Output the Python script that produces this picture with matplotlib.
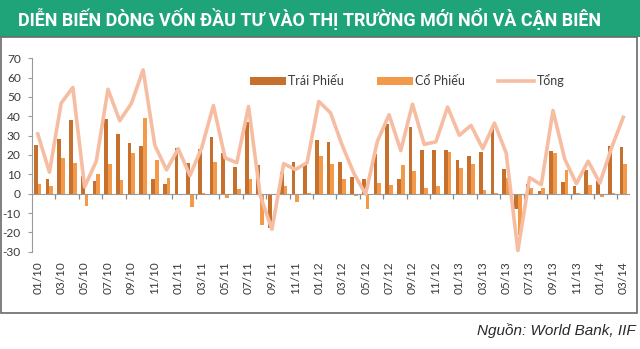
import matplotlib
matplotlib.use("Agg")
import matplotlib.pyplot as plt
import numpy as np
from matplotlib.patches import Rectangle

# dữ liệu (tỷ USD), 01/2010 - 03/2014
trai_phieu = [25.4, 7.4, 28.3, 38.1, 9, 6.5, 38.4, 30.9, 26.1, 24.5, 7.4, 4.8,
              23.7, 16.1, 23, 29.2, 21.1, 13.7, 37, 14.8, -18, 11.1, 16.5, 14.8,
              28, 26.8, 16.6, 8.7, 7.4, 20.6, 36.2, 7.7, 34.6, 22.5, 22.5, 22.8,
              17.2, 19.6, 21.6, 34, 12.7, -8.1, 4.8, 1.4, 22.3, 6.2, 3.9, 12.3,
              6.5, 24.5, 24]
co_phieu = [5.1, 3.9, 18.2, 16.1, -6.5, 10.1, 15.3, 6.9, 20.8, 39.3, 17.2, 7.9,
            -0.5, -6.9, 0.5, 16.5, -2.4, 2.2, 7.4, -16.1, -0.5, 3.9, -4.1, 0.5,
            19.4, 15.3, 7.4, -1, -8.1, 5.7, 4.3, 14.8, 11.7, 2.7, 3.9, 21.6,
            13.2, 15.6, 2.1, 0.3, 8.2, -21.5, 3.1, 2.7, 20.8, 12.3, 0.3, 4.3,
            -1.7, 0.2, 15.1]
tong = [30.9, 11.1, 46.8, 54.9, 3.5, 16.8, 54, 37.7, 46.7, 64, 25, 12.3,
        23.2, 9.4, 23.7, 45.6, 18.5, 16, 45.1, -1, -18.4, 15.5, 12.5, 16,
        47.7, 41.8, 25, 10.5, -0.3, 27, 40.8, 22.3, 46.3, 25.5, 26.8, 44.8,
        30.2, 35.3, 23.3, 36.5, 21.1, -29.5, 8.3, 4.6, 43, 17.9, 5.2, 16.8,
        5.5, 23.7, 39.5]
tick_labels = ["01/10", "03/10", "05/10", "07/10", "09/10", "11/10",
               "01/11", "03/11", "05/11", "07/11", "09/11", "11/11",
               "01/12", "03/12", "05/12", "07/12", "09/12", "11/12",
               "01/13", "03/13", "05/13", "07/13", "09/13", "11/13",
               "01/14", "03/14"]

C_TP = "#C6702E"
C_CP = "#F29A4A"
C_TONG = "#F7BDA2"
GRAY = "#9a9a9a"
TXT = "#3a3a3a"

plt.rcParams["font.family"] = ["Lato", "DejaVu Sans"]
plt.rcParams["axes.unicode_minus"] = False

fig = plt.figure(figsize=(6.4, 3.49), dpi=100)
ax = fig.add_axes([0.0498, 0.2788, 0.9332, 0.5542])

x = np.arange(len(trai_phieu))
w = 0.32
b1 = ax.bar(x - w / 2, trai_phieu, w, color=C_TP, label="Trái Phiếu", zorder=2)
b2 = ax.bar(x + w / 2, co_phieu, w, color=C_CP, label="Cổ Phiếu", zorder=2)
ln, = ax.plot(x, tong, color=C_TONG, lw=2.6, label="Tổng", zorder=3)

ax.set_xlim(-0.5, len(x) - 0.5)
ax.set_ylim(-30, 70)
ax.set_yticks(range(-30, 71, 10))
ax.tick_params(axis="y", colors=GRAY, length=3, width=0.8, pad=5,
               labelcolor=TXT, labelsize=8.6)

# trục hoành nằm tại 0, nhãn đẩy xuống dưới
ax.spines["bottom"].set_position(("data", 0))
ax.spines["bottom"].set_color(GRAY)
ax.spines["left"].set_color(GRAY)
ax.spines["top"].set_visible(False)
ax.spines["right"].set_visible(False)
ax.set_xticks(x[::2])
ax.set_xticklabels(tick_labels, rotation=90)
ax.set_xticks(x[2::2] - 0.5, minor=True)
ax.tick_params(axis="x", which="major", length=0, pad=49, labelsize=8.5,
               labelcolor=TXT)
ax.tick_params(axis="x", which="minor", length=3.5, width=0.9, colors="#8a8a8a")

ax.legend([b1, b2, ln], ["Trái Phiếu", "Cổ Phiếu", "Tổng"],
          loc="center", bbox_to_anchor=(0.628, 0.883), ncol=3, frameon=False,
          fontsize=9, handlelength=2.9, handleheight=0.55, handletextpad=0.2,
          columnspacing=2.6, labelcolor=TXT)

# dải tiêu đề xanh
fig.patches.append(Rectangle((0, 0.894), 1, 0.106, transform=fig.transFigure,
                             facecolor="#1FA47A", edgecolor="none", zorder=0))
fig.text(0.483, 0.947, "DIỄN BIẾN DÒNG VỐN ĐẦU TƯ VÀO THỊ TRƯỜNG MỚI NỔI VÀ CẬN BIÊN",
         ha="center", va="center", color="white", fontsize=12.9, fontweight="bold",
         family=["Roboto", "Liberation Sans", "DejaVu Sans"])

# khung viền
fig.patches.append(Rectangle((0.001, 1 - 313 / 349), 0.994, (313 - 37) / 349,
                             transform=fig.transFigure, fill=False,
                             edgecolor="#6a6a6a", lw=1.2, zorder=1))

fig.text(0.994, 0.052, "Nguồn: World Bank, IIF", ha="right", va="center",
         color="#2a2a2a", fontsize=11, style="italic",
         family=["Liberation Sans Narrow", "Liberation Sans", "DejaVu Sans"])

fig.savefig("out.png", dpi=100)
